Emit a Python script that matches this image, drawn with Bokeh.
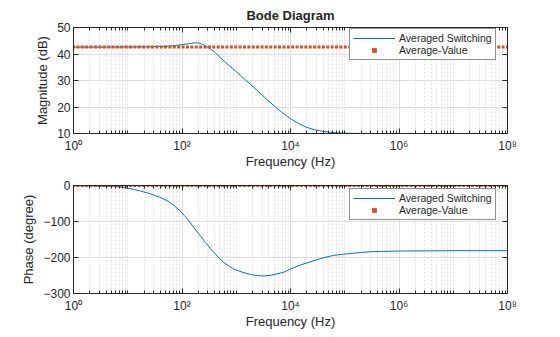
import numpy as np
from bokeh.plotting import figure
from bokeh.layouts import column
from bokeh.models import (FixedTicker, Legend, LegendItem, Range1d, LinearAxis,
                          LogAxis)
from bokeh.embed import file_html
from bokeh.resources import INLINE

# ---------------- data ----------------
mag_freq = [1, 3, 10, 20, 40, 60, 80, 100, 125, 150, 176, 200, 230, 260, 290,
            340, 400, 510, 600, 700, 850, 1000, 1190, 1500, 2000, 2800,
            3800, 5000, 7000, 10000, 14000, 20000, 28000, 40000, 60000, 80000,
            1.2e5, 2e5, 1e6, 1e8]
mag_db = [42.6, 42.6, 42.65, 42.7, 42.85, 43.0, 43.25, 43.5, 43.8, 44.05,
          44.2, 44.15, 43.8, 43.3, 42.7, 41.8, 40.7, 38.6, 37.3, 36.1, 34.6,
          33.3, 32.0, 30.1, 27.8, 25.1, 22.6, 20.4, 17.9, 15.6, 13.8, 12.3,
          11.4, 10.8, 10.35, 10.15, 10.07, 10.03, 10.0, 10.0]

phase_freq = [1, 2, 4.75, 8, 11, 17, 26, 38, 53, 70, 93, 110, 130, 164, 218,
              270, 333, 442, 600, 895, 1300, 1820, 2500, 3200, 4500, 7470,
              10000, 15200, 22000, 31000, 45000, 63000, 90000, 127000, 2e5,
              3e5, 5e5, 1e6, 1e7, 1e8]
phase_deg = [-0.4, -0.8, -2, -5, -8.5, -15, -23, -32, -42, -54.5, -71, -83,
             -95.5, -116, -140, -158, -175, -196, -215, -232, -241, -247,
             -250.5, -251.5, -249, -241, -232, -221, -213, -206, -199, -194,
             -191, -189, -186, -184, -183, -182, -181, -181]

n_avg = 100
avg_freq = np.logspace(0, 8, n_avg)
avg_mag = [42.6] * n_avg
avg_phase = [0.0] * n_avg

x_ticks = [1, 100, 10000, 1000000, 100000000]
x_tick_labels = ["10\u2070", "10\u00b2", "10\u2074", "10\u2076", "10\u2078"]
mag_ticks = [10, 20, 30, 40, 50]
phase_ticks = [0, -100, -200, -300]

title_text = "Bode Diagram"
x_label = "Frequency (Hz)"
mag_label = "Magnitude (dB)"
phase_label = "Phase (degree)"
series_names = ["Averaged Switching", "Average-Value"]

# ---------------- style ----------------
BLUE = "#0072BD"
ORANGE = "#D95319"
AX = "#262626"
FONT = "Liberation Sans"
x_minor = [m * 10 ** k for k in range(8) for m in range(2, 10)] + [10 ** k for k in (1, 3, 5, 7)]


def style_fig(p, yticks, ylabel):
    p.outline_line_color = AX
    p.outline_line_width = 1
    p.background_fill_color = "white"
    p.border_fill_color = "white"
    xt = FixedTicker(ticks=x_ticks, minor_ticks=x_minor)
    yt = FixedTicker(ticks=yticks)
    ax = p.xaxis[0]
    ax.ticker = xt
    ax.major_label_overrides = {t: l for t, l in zip(x_ticks, x_tick_labels)}
    ay = p.yaxis[0]
    ay.ticker = yt
    for a in (ax, ay):
        a.axis_line_color = AX
        a.major_tick_in = 5
        a.major_tick_out = 0
        a.minor_tick_in = 3
        a.minor_tick_out = 0
        a.major_tick_line_color = AX
        a.minor_tick_line_color = AX
        a.major_label_text_color = AX
        a.major_label_text_font = FONT
        a.axis_label_text_color = AX
        a.axis_label_text_font = FONT
        a.axis_label_text_font_style = "normal"
        a.axis_label_text_font_size = "13px"
    ay.minor_tick_line_color = None
    ax.major_label_text_font_size = "12px"
    ay.major_label_text_font_size = "12px"
    ax.major_label_standoff = 5
    ay.major_label_standoff = 3
    ax.axis_label_standoff = -2
    ay.axis_label_standoff = 4
    ax.axis_label = x_label
    ay.axis_label = ylabel
    # top & right mirror axes (ticks only)
    top = LogAxis(ticker=FixedTicker(ticks=x_ticks, minor_ticks=x_minor),
                  major_label_overrides={t: "" for t in x_ticks},
                  major_tick_in=5, major_tick_out=0, minor_tick_in=3, minor_tick_out=0,
                  axis_line_color=AX, major_tick_line_color=AX, minor_tick_line_color=AX,
                  major_label_standoff=0, major_label_text_font_size="1px")
    right = LinearAxis(ticker=FixedTicker(ticks=yticks),
                       major_label_overrides={t: "" for t in yticks},
                       major_tick_in=5, major_tick_out=0, minor_tick_line_color=None,
                       axis_line_color=AX, major_tick_line_color=AX,
                       major_label_standoff=0, major_label_text_font_size="1px")
    p.add_layout(top, "above")
    p.add_layout(right, "right")
    # grids
    p.xgrid.ticker = xt
    p.ygrid.ticker = yt
    p.xgrid.grid_line_color = "#dedede"
    p.ygrid.grid_line_color = "#dedede"
    p.xgrid.minor_grid_line_color = "#e0e0e0"
    p.xgrid.minor_grid_line_dash = "2 2"
    p.xgrid.minor_grid_line_width = 1


def add_legend(p, r1, r2, loc):
    leg = Legend(items=[LegendItem(label=series_names[0], renderers=[r1]),
                        LegendItem(label=series_names[1], renderers=[r2])],
                 location=loc, orientation="vertical")
    leg.label_text_font = FONT
    leg.label_text_font_size = "10.5px"
    leg.label_text_color = AX
    leg.glyph_width = 42
    leg.glyph_height = 12
    leg.label_height = 12
    leg.label_standoff = 4
    leg.spacing = 0
    leg.padding = 3
    leg.margin = 0
    leg.border_line_color = AX
    leg.border_line_width = 1
    leg.background_fill_color = "white"
    leg.background_fill_alpha = 1
    p.add_layout(leg, "center")


# ---------------- magnitude ----------------
p1 = figure(width=560, height=172, x_axis_type="log",
            x_range=Range1d(1, 1e8), y_range=Range1d(10, 50),
            output_backend="svg", toolbar_location=None,
            min_border_left=73, min_border_right=53,
            min_border_top=25, min_border_bottom=39)
p1.title.text = title_text
p1.title.align = "center"
p1.title.text_font = FONT
p1.title.text_font_size = "13px"
p1.title.text_font_style = "bold"
p1.title.text_color = AX
style_fig(p1, mag_ticks, mag_label)
r1 = p1.line(mag_freq, mag_db, line_color=BLUE, line_width=1)
r2 = p1.scatter(avg_freq, avg_mag, marker="square", size=3,
                fill_color=ORANGE, line_color=None)
add_legend(p1, r1, r2, (276, 73))

# ---------------- phase ----------------
p2 = figure(width=560, height=165, x_axis_type="log",
            x_range=Range1d(1, 1e8), y_range=Range1d(-300, 0),
            output_backend="svg", toolbar_location=None,
            min_border_left=73, min_border_right=53,
            min_border_top=13, min_border_bottom=44)
style_fig(p2, phase_ticks, phase_label)
q1 = p2.line(phase_freq, phase_deg, line_color=BLUE, line_width=1)
q2 = p2.scatter(avg_freq, avg_phase, marker="square", size=3,
                fill_color=ORANGE, line_color=None)
add_legend(p2, q1, q2, (276, 73))

layout = column(p1, p2, spacing=0)
open("out.html", "w").write(file_html(layout, INLINE))
